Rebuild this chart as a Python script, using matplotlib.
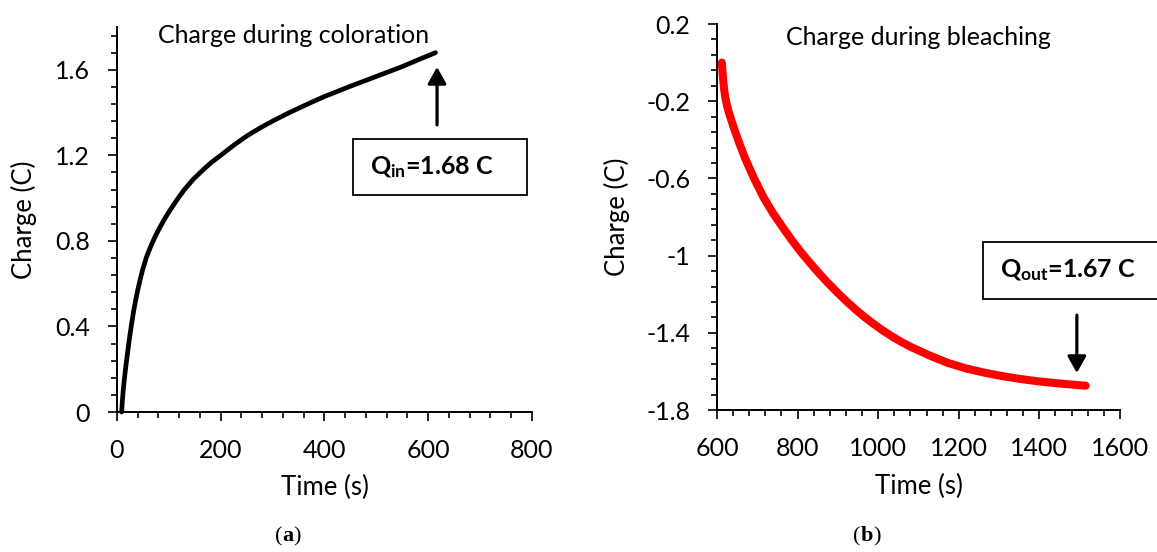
"""
Charge passed during coloration and bleaching of the electrochromic device.

Two panels side by side:
(a) charge inserted while colouring (black curve)
(b) charge extracted while bleaching (red curve)
"""

import matplotlib

matplotlib.use("Agg")
import matplotlib.pyplot as plt
import numpy as np
from matplotlib.patches import Rectangle
from matplotlib.ticker import FuncFormatter, MultipleLocator


# values
coloration_time = [9, 10.5, 12, 13.5, 15, 17, 19, 22, 25, 28.5, 32, 36, 40, 45,
                   50, 57, 65, 72, 80, 90, 100, 115, 130, 147, 165, 182, 200,
                   225, 250, 275, 300, 325, 350, 375, 400, 425, 450, 475, 500,
                   525, 550, 582, 614]
coloration_charge = [0.0, 0.055, 0.10, 0.137, 0.17, 0.212, 0.25, 0.307, 0.36,
                     0.417, 0.47, 0.522, 0.57, 0.622, 0.67, 0.725, 0.774,
                     0.812, 0.851, 0.895, 0.935, 0.99, 1.04, 1.088, 1.13, 1.167,
                     1.20, 1.247, 1.29, 1.327, 1.36, 1.391, 1.42, 1.448, 1.475,
                     1.499, 1.523, 1.546, 1.569, 1.592, 1.615, 1.648, 1.68]

bleaching_time = [612, 613, 614, 616, 618, 620, 623, 626, 630, 635, 643, 655,
                  670, 692, 716, 739, 762, 785, 807, 830, 853, 876, 899, 922,
                  945, 968, 990, 1013, 1036, 1059, 1082, 1128, 1173, 1219,
                  1265, 1310, 1356, 1400, 1447, 1480, 1515]
bleaching_charge = [0.0, -0.03, -0.058, -0.105, -0.143, -0.172, -0.205, -0.232,
                    -0.262, -0.295, -0.345, -0.415, -0.497, -0.60, -0.70, -0.78,
                    -0.85, -0.918, -0.978, -1.036, -1.091, -1.143, -1.192,
                    -1.238, -1.281, -1.321, -1.356, -1.39, -1.421, -1.449,
                    -1.474, -1.518, -1.556, -1.585, -1.607, -1.625, -1.64,
                    -1.652, -1.662, -1.668, -1.674]

q_in_label = r"$\mathbf{Q_{in}}$=1.68 C"
q_out_label = r"$\mathbf{Q_{out}}$=1.67 C"

FONT = "Lato"
TICK_SIZE = 18
LABEL_SIZE = 18.5

plt.rcParams["font.family"] = [FONT, "DejaVu Sans"]
plt.rcParams["axes.unicode_minus"] = False
plt.rcParams["mathtext.fontset"] = "custom"
plt.rcParams["mathtext.rm"] = FONT
plt.rcParams["mathtext.bf"] = f"{FONT}:bold"
plt.rcParams["mathtext.it"] = f"{FONT}:italic"


def excel_format(value, _pos):
    """Format tick numbers the way Excel's General format does."""
    return f"{round(value, 2):g}"


def style_axes(ax) -> None:
    """Only left and bottom spines, outside ticks with minor marks."""
    for side in ["top", "right"]:
        ax.spines[side].set_visible(False)
    for side in ["left", "bottom"]:
        ax.spines[side].set_linewidth(1.4)
    ax.tick_params(which="major", direction="out", length=6.3, width=1.2,
                   labelsize=TICK_SIZE, pad=13)
    ax.tick_params(which="minor", direction="out", length=4.5, width=1.2)
    ax.xaxis.set_minor_locator(MultipleLocator(40))
    ax.yaxis.set_major_formatter(FuncFormatter(excel_format))
    ax.set_xlabel("Time (s)", fontsize=LABEL_SIZE)
    ax.set_ylabel("Charge (C)", fontsize=LABEL_SIZE)


def draw_arrow(ax, x, y_from, y_to) -> None:
    ax.annotate(
        "",
        xy=(x, y_to),
        xytext=(x, y_from),
        arrowprops=dict(
            arrowstyle="-|>,head_length=0.5,head_width=0.28",
            mutation_scale=20,
            lw=2.3,
            color="black",
            shrinkA=0,
            shrinkB=0,
        ),
        annotation_clip=False,
    )


def draw_box(ax, x0, y0, width, height, text, text_x, text_y) -> None:
    ax.add_patch(Rectangle((x0, y0), width, height, transform=ax.transAxes,
                           facecolor="white", edgecolor="black", lw=1.3,
                           clip_on=False, zorder=4))
    ax.text(text_x, text_y, text, transform=ax.transAxes, fontsize=18,
            fontweight="bold", ha="center", va="center", zorder=5)


def panel_letter(fig, ax, x, y, letter) -> None:
    """Write '(a)' with a bold serif letter."""
    kw = dict(fontsize=16, family="Liberation Serif", va="bottom")
    opening = fig.text(x, y, "(", ha="right", **kw)
    middle = ax.annotate(letter, xy=(1, 0), xycoords=opening,
                         fontweight="bold", annotation_clip=False, **kw)
    ax.annotate(")", xy=(1, 0), xycoords=middle, annotation_clip=False, **kw)


fig = plt.figure(figsize=(11.57, 5.52), dpi=100)

# (a) coloration
ax_a = fig.add_axes([0.1011, 0.2536, 0.3587, 0.6975])
ax_a.plot(coloration_time, coloration_charge, color="black", lw=3.4,
          solid_capstyle="round", solid_joinstyle="round", clip_on=False,
          zorder=3)
ax_a.set_xlim(0, 800)
ax_a.set_ylim(0, 1.8)
ax_a.xaxis.set_major_locator(MultipleLocator(200))
ax_a.yaxis.set_major_locator(MultipleLocator(0.4))
ax_a.yaxis.set_minor_locator(MultipleLocator(0.08))
style_axes(ax_a)
ax_a.xaxis.set_label_coords(0.5, -0.163)
ax_a.yaxis.set_label_coords(-0.193, 0.5)
ax_a.text(0.4265, 0.979, "Charge during coloration", transform=ax_a.transAxes,
          fontsize=18, ha="center", va="center")
draw_box(ax_a, 0.5687, 0.5636, 0.4193, 0.1454, q_in_label, 0.759, 0.636)
draw_arrow(ax_a, 617, 1.342, 1.613)

# (b) bleaching
ax_b = fig.add_axes([0.6197, 0.2572, 0.3483, 0.6993])
ax_b.plot(bleaching_time, bleaching_charge, color="#ff0000", lw=5.8,
          solid_capstyle="round", solid_joinstyle="round", clip_on=False,
          zorder=3)
ax_b.set_xlim(600, 1600)
ax_b.set_ylim(-1.8, 0.2)
ax_b.xaxis.set_major_locator(MultipleLocator(200))
ax_b.set_yticks(np.arange(-1.8, 0.21, 0.4))
ax_b.set_yticks(np.arange(-1.8, 0.2, 0.08), minor=True)
style_axes(ax_b)
ax_b.xaxis.set_label_coords(0.5, -0.166)
ax_b.yaxis.set_label_coords(-0.216, 0.5)
ax_b.text(0.501, 0.964, "Charge during bleaching", transform=ax_b.transAxes,
          fontsize=18, ha="center", va="center")
draw_box(ax_b, 0.660, 0.2876, 0.55, 0.1474, q_out_label, 0.871, 0.363)
draw_arrow(ax_b, 1493, -1.308, -1.608)

panel_letter(fig, ax_a, 0.2437, 0.01, "a")
panel_letter(fig, ax_b, 0.7440, 0.01, "b")

fig.savefig("out.png", dpi=100)
